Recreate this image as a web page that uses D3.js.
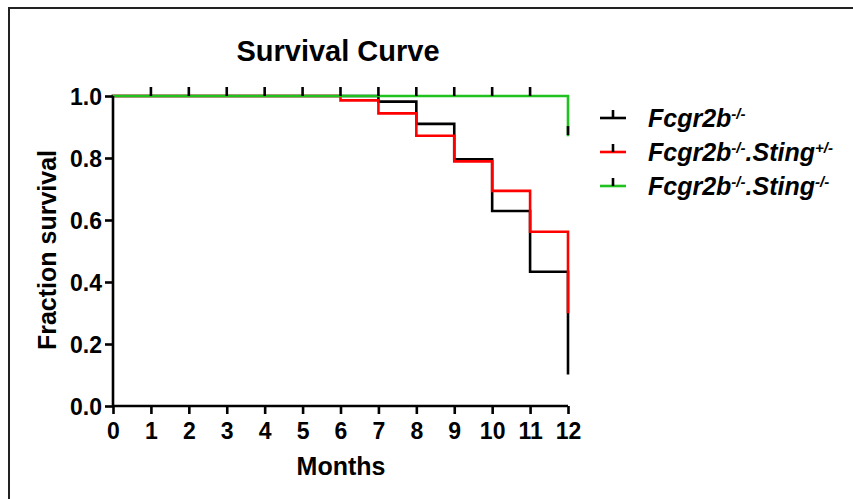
<!DOCTYPE html>
<html>
<head>
<meta charset="utf-8">
<script src="https://cdn.jsdelivr.net/npm/d3@7/dist/d3.min.js"></script>
<style>
  html, body { margin: 0; padding: 0; background: #fff; }
  svg { display: block; font-family: "Liberation Sans", Arial, sans-serif; }
</style>
</head>
<body>
<svg id="chart" width="853" height="499"></svg>
<script>
// Kaplan-Meier step data: months at which survival changes, and the fraction after each step
const months = [0, 1, 2, 3, 4, 5, 6, 7, 8, 9, 10, 11, 12];
const fcgrTimes = [0, 7, 8, 9, 10, 11, 12];
const fcgrSurvival = [1.0, 0.982, 0.91, 0.796, 0.629, 0.433, 0.106];
const stingHetTimes = [0, 6, 7, 8, 9, 10, 11, 12];
const stingHetSurvival = [1.0, 0.986, 0.944, 0.872, 0.789, 0.694, 0.562, 0.303];
const stingKoTimes = [0, 12];
const stingKoSurvival = [1.0, 0.874];
// censored observations (months) on the Sting-/- curve
const stingKoCensored = [1, 2, 3, 4, 5, 6, 7, 8, 9, 10, 11, 12];
const yTicks = [0.0, 0.2, 0.4, 0.6, 0.8, 1.0];

const series = [
  { name: "fcgr", times: fcgrTimes, surv: fcgrSurvival, color: "#000000", censored: [] },
  { name: "het", times: stingHetTimes, surv: stingHetSurvival, color: "#ff0000", censored: [] },
  { name: "ko", times: stingKoTimes, surv: stingKoSurvival, color: "#1fc21f", censored: stingKoCensored }
];

const svg = d3.select("#chart");

// outer frame
svg.append("path")
  .attr("d", "M9,499 L9,8 L853,8")
  .attr("fill", "none").attr("stroke", "#222").attr("stroke-width", 2);

const x = d3.scaleLinear().domain([0, 12]).range([113, 568]);
const y = d3.scaleLinear().domain([0, 1]).range([406, 96]);

// survival curves
const line = d3.line()
  .x(d => x(d[0])).y(d => y(d[1]))
  .curve(d3.curveStepAfter);

series.forEach(s => {
  const pts = s.times.map((t, i) => [t, s.surv[i]]);
  svg.append("path")
    .datum(pts)
    .attr("d", line)
    .attr("fill", "none")
    .attr("stroke", s.color)
    .attr("stroke-width", 2.6)
    .attr("stroke-linejoin", "miter")
    .attr("stroke-linecap", "square");
});

// survival value at time t for a step series
function survAt(s, t) {
  let v = s.surv[0];
  s.times.forEach((tt, i) => { if (tt <= t) v = s.surv[i]; });
  return v;
}

// censor ticks (drawn in black, pointing up)
series.forEach(s => {
  svg.selectAll(null)
    .data(s.censored)
    .enter().append("line")
    .attr("x1", d => x(d)).attr("x2", d => x(d))
    .attr("y1", d => y(survAt(s, d)))
    .attr("y2", d => y(survAt(s, d)) - 9)
    .attr("stroke", "#000").attr("stroke-width", 2.6);
});

// axes
const xAxis = d3.axisBottom(x).tickValues(months).tickSize(8).tickPadding(9).tickFormat(d3.format("d"));
const yAxis = d3.axisLeft(y).tickValues(yTicks).tickSize(8).tickPadding(3).tickFormat(d3.format(".1f"));

const gx = svg.append("g").attr("transform", "translate(0,406)").call(xAxis);
const gy = svg.append("g").attr("transform", "translate(113,0)").call(yAxis);

[gx, gy].forEach(g => {
  g.select(".domain").attr("stroke", "#000").attr("stroke-width", 2.6);
  g.selectAll(".tick line").attr("stroke", "#000").attr("stroke-width", 2.6);
  g.selectAll(".tick text")
    .attr("fill", "#000")
    .style("font-family", "'Liberation Sans', Arial, sans-serif")
    .style("font-weight", "bold")
    .style("font-size", "23px");
});
gx.select(".domain").attr("d", "M113,0H568");
gy.select(".domain").attr("d", "M0,406V96");
gy.selectAll(".tick text").attr("dy", "0.36em");

// titles
svg.append("text")
  .attr("x", 338).attr("y", 61)
  .attr("text-anchor", "middle")
  .style("font-weight", "bold").style("font-size", "29px")
  .text("Survival Curve");

svg.append("text")
  .attr("x", 341).attr("y", 475)
  .attr("text-anchor", "middle")
  .style("font-weight", "bold").style("font-size", "25px")
  .text("Months");

svg.append("text")
  .attr("transform", "translate(56,250) rotate(-90)")
  .attr("text-anchor", "middle")
  .style("font-weight", "bold").style("font-size", "25px")
  .text("Fraction survival");

// legend
const legendRows = [
  { color: "#000000", parts: [["Fcgr2b", false], ["-/-", true]] },
  { color: "#ff0000", parts: [["Fcgr2b", false], ["-/-", true], [".Sting", false], ["+/-", true]] },
  { color: "#1fc21f", parts: [["Fcgr2b", false], ["-/-", true], [".Sting", false], ["-/-", true]] }
];
const lg = svg.append("g");
legendRows.forEach((r, i) => {
  const ly = 118 + i * 34;
  lg.append("line").attr("x1", 600).attr("x2", 626).attr("y1", ly).attr("y2", ly)
    .attr("stroke", r.color).attr("stroke-width", 2.6);
  lg.append("line").attr("x1", 613).attr("x2", 613).attr("y1", ly).attr("y2", ly - 8)
    .attr("stroke", "#000").attr("stroke-width", 2.6);
  const t = lg.append("text").attr("x", 648).attr("y", ly + 9)
    .style("font-weight", "bold").style("font-style", "italic").style("font-size", "25px");
  r.parts.forEach(p => {
    const ts = t.append("tspan").text(p[0]);
    if (p[1]) ts.attr("baseline-shift", "super").style("font-size", "15px");
  });
});
</script>
</body>
</html>
